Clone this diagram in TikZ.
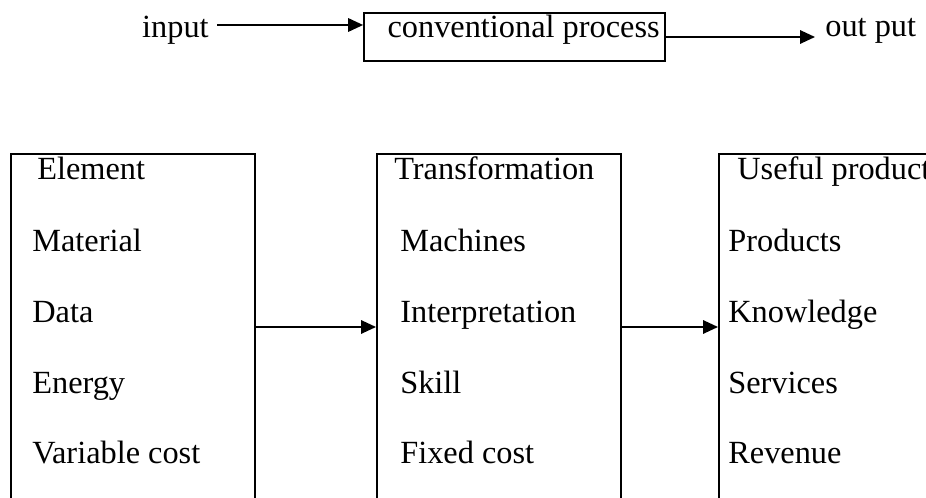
\documentclass[tikz,border=0pt]{standalone}
\usepackage{fontspec}
\setmainfont{Liberation Serif}
\usetikzlibrary{arrows.meta,calc}
\tikzset{
  lbl/.style={inner sep=0pt, anchor=base west},
  box/.style={draw, line width=1pt, inner sep=0pt},
  arr/.style={line width=1pt, -{Triangle[length=0.30cm, width=0.27cm]}}
}

\begin{document}
\begin{tikzpicture}[font=\fontsize{18.4}{22}\selectfont]
			\useasboundingbox (0,0) rectangle (18.52,9.96);
			\clip (0,0) rectangle (18.52,9.96);
			
			%%%%% CONVENTIONAL PROCESS %%%%%
			
			\node[lbl, anchor=base east] (input) at (4.18, 9.20) {input};
			\node[box, minimum width=6.02cm, minimum height=0.96cm] (conv) at (10.29, 9.22) {};
			\node[lbl, anchor=base east] (convtext) at (13.20, 9.20) {conventional process};
			\node[lbl] (output) at (16.50, 9.22) {out put};
			
			\draw[arr] ($(input.base east)+(0.16,0.26)$) -- ($(conv.west)+(0,0.24)$);
			\draw[arr] (conv.east) -- ($(output.base west |- conv.east)+(-0.2,0)$);
			
			%%%%% ELEMENT -> TRANSFORMATION -> USEFUL PRODUCT %%%%%
			
			\node[box, anchor=north west, minimum width=4.88cm, minimum height=8cm] (elem) at (0.20, 6.90) {};
			\node[box, anchor=north west, minimum width=4.88cm, minimum height=8cm] (trans) at (7.52, 6.90) {};
			\node[box, anchor=north west, minimum width=4.88cm, minimum height=8cm] (useful) at (14.36, 6.90) {};
			
			\coordinate (flow) at (0, 3.42);
			\draw[arr] (elem.east |- flow) -- (trans.west |- flow);
			\draw[arr] (trans.east |- flow) -- (useful.west |- flow);
			
			\node[lbl] (elemhead) at (0.74, 6.36) {Element};
			\node[lbl] (material) at (0.64, 4.92) {Material};
			\node[lbl] (data) at (0.64, 3.50) {Data};
			\node[lbl] (energy) at (0.64, 2.08) {Energy};
			\node[lbl] (varcost) at (0.64, 0.68) {Variable cost};
			
			\node[lbl] (transhead) at (7.88, 6.36) {Transformation};
			\node[lbl] (machines) at (8.00, 4.92) {Machines};
			\node[lbl] (interp) at (8.00, 3.50) {Interpretation};
			\node[lbl] (skill) at (8.00, 2.08) {Skill};
			\node[lbl] (fixcost) at (8.00, 0.68) {Fixed cost};
			
			\node[lbl] (usefulhead) at (14.74, 6.36) {Useful product};
			\node[lbl] (products) at (14.56, 4.92) {Products};
			\node[lbl] (knowledge) at (14.56, 3.50) {Knowledge};
			\node[lbl] (services) at (14.56, 2.08) {Services};
			\node[lbl] (revenue) at (14.56, 0.68) {Revenue};
			
			%%%%% END %%%%%
\end{tikzpicture}
\end{document}
